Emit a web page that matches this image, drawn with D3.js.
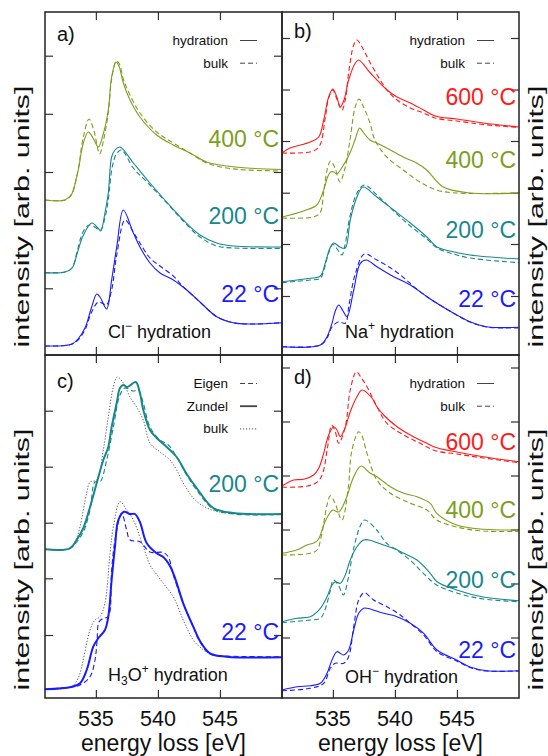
<!DOCTYPE html>
<html><head><meta charset="utf-8">
<script src="https://cdn.jsdelivr.net/npm/d3@7"></script>
<style>
body{margin:0;background:#fff}
svg{display:block}
text{font-family:"Liberation Sans",Arial,Helvetica,sans-serif}
</style>
</head><body>
<svg id="chart" width="548" height="756"></svg>
<script>
// energy axis
var energyDomain = [530.9, 550];
var xTicks = [535, 540, 545];

// panel a) Cl- hydration  [energy eV, intensity arb.]
var aCl400 = [[530.9,15.5],[532.51,15.5],[533.05,16.1],[533.18,16.5],[533.58,18.5],[533.99,21.2],[534.39,22.3],[534.77,21.7],[535.2,20.8],[535.57,22.0],[536.0,24.5],[536.27,27.8],[536.62,29.3],[536.86,28.9],[537.21,27.2],[537.75,25.5],[538.55,23.8],[539.9,22.0],[541.24,21.0],[542.58,20.2],[543.93,19.3],[545.54,18.9],[547.15,18.7],[550,18.55]];
var aCl400Bulk = [[530.9,15.5],[532.51,15.5],[533.05,16.0],[533.18,16.4],[533.58,18.6],[533.99,21.8],[534.45,23.6],[534.85,22.4],[535.3,20.1],[535.62,21.5],[536.0,24.2],[536.27,27.6],[536.65,29.4],[536.9,29.1],[537.21,27.6],[537.75,26.0],[538.55,24.2],[539.9,22.3],[541.24,21.2],[542.58,20.2],[543.93,19.2],[545.54,18.7],[547.15,18.5],[550,18.4]];
var aCl200 = [[530.9,8.23],[532.51,8.3],[533.08,8.7],[533.48,10.1],[533.96,11.9],[534.66,13.2],[535.17,12.7],[535.39,12.4],[535.73,14.2],[536.0,16.2],[536.27,19.8],[536.54,20.5],[536.94,20.8],[538.02,19.2],[539.36,17.2],[540.71,15.3],[542.04,13.5],[543.39,12.0],[544.74,11.2],[546.07,10.9],[550,10.8]];
var aCl200Bulk = [[530.9,8.23],[532.51,8.3],[533.08,8.7],[533.48,10.3],[533.96,12.3],[534.47,13.0],[535.17,12.6],[535.39,12.5],[535.73,13.7],[536.0,15.5],[536.35,19.0],[536.7,20.2],[537.07,20.5],[538.02,18.7],[539.36,17.0],[540.71,15.2],[542.04,13.4],[543.39,11.8],[544.74,10.9],[546.07,10.7],[550,10.67]];
var aCl22 = [[530.9,0.9],[532.51,0.95],[533.08,1.1],[533.56,1.6],[534.12,2.7],[534.66,4.8],[535.07,6.1],[535.33,5.8],[535.87,4.6],[536.27,7.5],[536.68,10.8],[537.21,14.5],[538.02,12.2],[538.55,10.8],[539.36,9.2],[540.17,8.2],[541.24,7.5],[542.32,6.5],[543.39,5.3],[544.74,3.83],[546.07,3.23],[547.42,3.1],[550,3.23]];
var aCl22Bulk = [[530.9,0.9],[532.51,0.95],[533.08,1.1],[533.56,1.5],[534.12,2.5],[534.66,4.3],[535.2,5.3],[535.55,5.15],[535.85,5.0],[536.27,6.5],[536.68,10.0],[537.35,13.5],[538.02,12.3],[538.55,11.2],[539.36,9.7],[540.17,8.9],[541.24,7.9],[541.9,7.0],[542.32,6.5],[543.39,5.3],[544.74,3.83],[546.07,3.23],[547.42,3.1],[550,3.23]];

// panel b) Na+ hydration
var bNa600 = [[530.9,20.2],[531.54,20.7],[532.11,20.9],[533.16,21.3],[533.86,21.8],[534.26,23.5],[534.66,25.8],[534.99,26.6],[535.29,25.9],[535.6,24.8],[535.9,25.5],[536.27,27.5],[536.81,29.2],[537.08,29.5],[538.02,28.2],[539.36,26.5],[540.17,25.8],[541.24,25.2],[542.32,24.5],[543.25,23.9],[544.98,23.6],[547.1,23.2],[550,22.8]];
var bNa600Bulk = [[530.9,20.2],[532.11,20.2],[533.43,20.4],[533.96,21.0],[534.36,23.5],[534.66,25.7],[534.99,26.5],[535.29,25.7],[535.73,24.5],[536.0,25.5],[536.3,28.5],[536.68,31.0],[536.94,31.5],[537.3,30.9],[538.02,29.2],[539.36,26.5],[540.17,25.5],[541.24,24.7],[542.32,24.2],[543.25,23.7],[544.98,23.4],[547.1,23.05],[550,22.75]];
var bNa400 = [[530.9,13.8],[532.62,14.4],[533.7,15.0],[534.2,16.3],[534.61,17.9],[534.82,18.3],[535.09,18.3],[535.31,18.1],[535.86,19.0],[536.38,20.2],[536.78,21.5],[537.15,22.7],[537.43,22.3],[537.99,21.5],[538.53,21.2],[539.34,20.7],[540.67,19.8],[541.75,19.2],[542.56,18.5],[543.9,16.8],[546.05,16.2],[550,16.2]];
var bNa400Bulk = [[530.9,13.7],[533.42,13.8],[533.96,14.2],[534.28,16.5],[534.57,18.7],[534.82,19.4],[535.17,18.7],[535.57,17.3],[535.98,18.7],[536.38,21.5],[536.78,24.7],[537.1,25.6],[537.51,24.7],[537.99,23.2],[538.39,21.5],[539.34,19.8],[540.67,18.5],[542.02,17.3],[543.36,16.5],[544.98,16.2],[550,16.2]];
var bNa200 = [[530.9,7.33],[532.11,7.5],[533.18,7.67],[533.99,7.9],[534.41,9.3],[534.77,10.7],[535.07,11.2],[535.57,10.8],[536.0,10.7],[536.4,13.5],[536.94,15.8],[537.43,16.8],[538.55,15.8],[539.9,14.5],[541.24,13.2],[542.58,11.8],[543.39,10.8],[544.44,10.4],[546.05,10.0],[550,9.6]];
var bNa200Bulk = [[530.9,7.23],[533.18,7.5],[533.99,7.67],[534.28,8.5],[534.69,10.3],[535.01,11.07],[535.4,10.5],[535.73,10.0],[535.98,11.0],[536.4,14.0],[536.94,16.2],[537.54,17.0],[538.55,16.0],[539.9,14.4],[541.24,12.9],[542.58,11.6],[543.39,10.7],[544.44,10.2],[546.05,9.7],[550,9.23]];
var bNa22 = [[530.9,0.83],[533.99,1.0],[534.53,1.83],[534.93,3.17],[535.17,4.3],[535.47,5.0],[535.82,4.4],[536.14,3.83],[536.68,6.5],[537.21,9.17],[537.69,9.5],[538.55,8.83],[539.9,7.83],[541.24,7.0],[542.58,5.83],[543.39,5.17],[544.98,4.0],[546.05,3.33],[547.39,2.83],[550,2.77]];
var bNa22Bulk = [[530.9,0.83],[533.99,1.0],[534.53,1.7],[534.93,2.8],[535.47,3.33],[536.0,3.17],[536.3,5.0],[536.78,8.0],[537.54,10.1],[538.55,9.5],[539.9,8.5],[540.93,7.5],[541.47,6.9],[542.58,5.83],[543.39,5.17],[544.98,4.0],[546.05,3.3],[547.39,2.8],[550,2.7]];

// panel c) H3O+ hydration
var cH200Zundel = [[530.9,14.87],[532.91,14.97],[533.45,15.8],[533.99,17.0],[534.53,19.1],[535.07,21.5],[535.6,23.8],[536.0,25.1],[536.27,27.1],[536.68,29.5],[536.94,31.0],[537.21,31.3],[537.53,31.1],[538.21,31.6],[538.55,30.5],[538.82,28.8],[539.36,26.8],[539.9,26.0],[540.71,25.1],[541.51,24.1],[542.32,22.4],[543.12,21.0],[544.46,19.0],[546.07,18.5],[550,18.4]];
var cH200Eigen = [[530.9,14.87],[532.91,14.97],[533.45,15.6],[533.99,16.6],[534.53,18.8],[534.93,21.6],[535.33,21.6],[535.87,23.8],[536.41,27.1],[536.94,30.3],[537.35,31.0],[538.02,30.7],[538.43,30.8],[538.82,29.5],[539.36,27.1],[540.17,25.8],[540.84,25.3],[541.51,24.1],[542.32,22.3],[543.12,20.8],[544.46,18.9],[546.07,18.4],[550,18.35]];
var cH200Bulk = [[530.9,14.87],[532.91,14.97],[533.45,16.0],[533.72,17.1],[534.26,20.5],[534.53,21.6],[535.07,21.8],[535.6,24.8],[536.0,28.1],[536.41,31.1],[536.73,32.1],[537.21,31.5],[537.75,30.1],[538.28,29.1],[538.82,27.8],[539.36,25.5],[540.17,24.6],[540.97,23.8],[541.51,22.8],[542.04,21.5],[542.85,20.0],[543.64,19.2],[544.99,18.6],[550,18.4]];
var cH22Zundel = [[530.9,0.87],[533.0,1.1],[533.72,1.47],[534.26,2.8],[534.79,5.13],[535.19,5.97],[535.73,6.8],[536.0,8.13],[536.27,11.8],[536.54,15.13],[536.81,17.8],[537.27,18.63],[537.75,18.4],[538.15,18.4],[538.55,17.6],[539.09,15.5],[539.9,14.47],[540.43,14.1],[540.97,13.2],[541.38,12.0],[542.04,9.47],[542.85,7.13],[543.39,5.7],[544.2,4.47],[545.54,4.13],[550,4.07]];
var cH22Eigen = [[530.9,0.87],[533.0,1.1],[533.72,1.3],[534.53,2.13],[534.93,3.8],[535.09,5.6],[535.25,7.6],[535.6,7.97],[536.0,8.13],[536.27,12.8],[536.54,15.8],[537.08,18.47],[537.48,16.8],[537.75,15.8],[538.55,15.63],[539.36,14.6],[540.43,14.55],[540.84,14.1],[541.24,12.3],[542.04,9.47],[542.85,7.1],[543.39,5.6],[544.2,4.4],[545.54,4.2],[550,4.13]];
var cH22Bulk = [[530.9,0.87],[533.0,1.1],[533.4,1.6],[533.72,2.47],[534.53,6.8],[534.93,7.8],[535.33,8.13],[535.73,9.47],[536.14,14.47],[536.41,17.13],[536.94,19.63],[537.48,18.8],[538.02,17.8],[538.82,15.13],[539.36,13.3],[539.63,12.8],[540.43,11.47],[541.24,10.13],[542.04,7.8],[542.85,5.8],[543.39,5.1],[544.2,4.4],[545.54,4.1],[550,4.05]];

// panel d) OH- hydration
var dOH600 = [[530.9,21.2],[531.84,21.8],[532.65,21.87],[533.45,22.3],[533.86,22.97],[534.26,24.47],[534.66,26.3],[535.07,27.13],[535.33,26.8],[535.6,26.13],[535.98,27.0],[536.4,28.63],[536.94,30.13],[537.35,30.8],[538.15,30.0],[538.55,29.13],[539.09,28.3],[540.17,27.13],[541.24,26.3],[542.58,25.47],[543.25,25.07],[544.98,24.6],[547.12,24.13],[550,23.63]];
var dOH600Bulk = [[530.9,21.07],[532.96,21.2],[533.78,21.63],[534.18,22.47],[534.58,25.13],[534.9,27.3],[535.2,26.6],[535.47,25.47],[536.0,27.13],[536.4,30.8],[536.89,32.63],[537.3,32.0],[537.75,31.13],[538.55,29.13],[539.36,27.47],[540.71,26.3],[542.04,25.47],[543.25,24.73],[544.98,24.4],[547.12,24.0],[550,23.53]];
var dOH400 = [[530.9,14.47],[532.08,14.8],[532.91,15.3],[533.45,15.5],[533.8,15.8],[534.36,17.6],[534.81,18.6],[535.01,18.8],[535.47,18.6],[536.02,19.8],[536.68,22.13],[537.27,23.2],[538.02,22.47],[538.55,22.13],[539.63,21.13],[540.71,20.47],[541.78,20.13],[542.85,19.47],[543.37,18.47],[544.98,17.3],[547.12,16.87],[550,16.8]];
var dOH400Bulk = [[530.9,14.3],[533.18,14.47],[533.72,14.8],[534.12,16.5],[534.53,19.3],[534.8,20.23],[535.17,19.5],[535.73,17.8],[536.22,20.8],[536.54,24.8],[537.08,26.63],[537.35,26.2],[537.75,24.47],[538.55,21.8],[539.63,20.47],[541.24,19.47],[542.58,18.8],[543.37,17.8],[544.98,17.1],[547.12,16.7],[550,16.67]];
var dOH200 = [[530.9,7.63],[532.11,7.97],[533.18,8.13],[533.99,8.97],[534.53,10.13],[534.93,11.3],[535.2,11.63],[535.6,11.47],[536.0,12.3],[536.4,13.8],[536.94,15.13],[537.48,15.8],[537.89,15.8],[539.09,15.3],[539.9,14.97],[540.71,14.47],[541.78,13.8],[542.85,12.47],[543.39,11.63],[544.98,10.8],[547.12,10.1],[550,9.73]];
var dOH200Bulk = [[530.9,7.53],[533.18,7.8],[533.99,7.97],[534.36,8.8],[534.77,10.63],[535.04,11.8],[535.44,11.3],[535.84,10.3],[536.24,11.97],[536.65,14.8],[537.18,17.13],[537.56,17.8],[538.53,16.8],[539.34,15.47],[540.14,14.8],[541.21,13.8],[542.29,12.47],[543.36,11.3],[544.98,10.5],[547.12,9.9],[550,9.63]];
var dOH22 = [[530.9,0.8],[532.11,1.13],[533.18,1.23],[533.99,1.47],[534.53,2.47],[534.93,3.8],[535.33,4.63],[535.87,4.3],[536.27,4.8],[536.68,6.8],[537.08,8.47],[537.48,8.97],[537.75,8.97],[539.09,8.47],[540.17,8.13],[541.24,7.47],[542.32,6.47],[543.39,4.8],[544.98,3.8],[546.05,3.1],[547.39,2.73],[550,2.73]];
var dOH22Bulk = [[530.9,0.73],[533.18,0.97],[534.26,1.47],[534.79,2.97],[535.2,3.47],[535.87,3.47],[536.27,4.13],[536.68,7.13],[537.08,9.8],[537.53,10.53],[538.28,9.8],[539.36,9.13],[540.43,8.3],[541.24,7.47],[542.32,6.3],[543.39,4.63],[544.98,3.7],[546.05,3.05],[547.39,2.7],[550,2.7]];

// y tick values (arb. units) for each panel
var yTicksA = [6.67, 12.49, 18.3, 24.12, 29.93];
var yTicksB = [5.9, 11.1, 16.23, 21.4, 26.55, 31.7];
var yTicksC = [6.3, 11.97, 17.53, 23.13, 28.73];
var yTicksD = [6.05, 11.45, 16.85, 22.25, 27.65, 33.05];

var GREEN = "#7c9e1c", TEAL = "#18878c", BLUE = "#1a1aff", RED = "#ff1a1a", GREY = "#555";

var panels = [
  {id:"a", x0:45, x1:282, y0:12, y1:355, yTicks:yTicksA, xLabels:false, letterY:41, yTitle:"left",
   legend:[["hydration","solid"],["bulk","dash"]],
   temps:[["400 °C",GREEN,147],["200 °C",TEAL,224],["22 °C",BLUE,302]],
   note:{main:"Cl", sup:"−", sub:null, tail:" hydration", x:108, y:338},
   series:[[aCl400,GREEN,"solid"],[aCl400Bulk,GREEN,"dash"],[aCl200,TEAL,"solid"],[aCl200Bulk,TEAL,"dash"],[aCl22,BLUE,"solid"],[aCl22Bulk,BLUE,"dash"]]},
  {id:"b", x0:282, x1:519, y0:12, y1:355, yTicks:yTicksB, xLabels:false, letterY:38, yTitle:"right",
   legend:[["hydration","solid"],["bulk","dash"]],
   temps:[["600 °C",RED,105],["400 °C",GREEN,168],["200 °C",TEAL,238],["22 °C",BLUE,307]],
   note:{main:"Na", sup:"+", sub:null, tail:" hydration", x:345, y:338},
   series:[[bNa600,RED,"solid"],[bNa600Bulk,RED,"dash"],[bNa400,GREEN,"solid"],[bNa400Bulk,GREEN,"dash"],[bNa200,TEAL,"solid"],[bNa200Bulk,TEAL,"dash"],[bNa22,BLUE,"solid"],[bNa22Bulk,BLUE,"dash"]]},
  {id:"c", x0:45, x1:282, y0:355, y1:698, yTicks:yTicksC, xLabels:true, letterY:388, yTitle:"left",
   legend:[["Eigen","dash"],["Zundel","thick"],["bulk","dot"]],
   temps:[["200 °C",TEAL,492],["22 °C",BLUE,640]],
   note:{main:"H", sub:"3", sup:"+", mid:"O", tail:" hydration", x:108, y:681},
   series:[[cH200Bulk,GREY,"dot"],[cH200Eigen,TEAL,"dash"],[cH200Zundel,TEAL,"thick"],[cH22Bulk,GREY,"dot"],[cH22Eigen,BLUE,"dash"],[cH22Zundel,BLUE,"thick"]]},
  {id:"d", x0:282, x1:519, y0:355, y1:698, yTicks:yTicksD, xLabels:true, letterY:384, yTitle:"right",
   legend:[["hydration","solid"],["bulk","dash"]],
   temps:[["600 °C",RED,450],["400 °C",GREEN,518],["200 °C",TEAL,588],["22 °C",BLUE,658]],
   note:{main:"OH", sup:"−", sub:null, tail:" hydration", x:345, y:683},
   series:[[dOH600,RED,"solid"],[dOH600Bulk,RED,"dash"],[dOH400,GREEN,"solid"],[dOH400Bulk,GREEN,"dash"],[dOH200,TEAL,"solid"],[dOH200Bulk,TEAL,"dash"],[dOH22,BLUE,"solid"],[dOH22Bulk,BLUE,"dash"]]}
];

var styles = {
  solid:{w:1.1, dash:null},
  dash:{w:1.1, dash:"5,3"},
  thick:{w:2.0, dash:null},
  dot:{w:1.0, dash:"1.2,1.8"}
};

var svg = d3.select("#chart");
svg.append("rect").attr("width",548).attr("height",756).attr("fill","#fff");
var defs = svg.append("defs");

panels.forEach(function(p){
  var x = d3.scaleLinear().domain(energyDomain).range([p.x0, p.x1]);
  var y = d3.scaleLinear().domain([0, 34.3]).range([p.y1, p.y0]);
  var g = svg.append("g").attr("class","panel-"+p.id);

  defs.append("clipPath").attr("id","clip-"+p.id)
    .append("rect").attr("x",p.x0).attr("y",p.y0).attr("width",p.x1-p.x0).attr("height",p.y1-p.y0);

  // ticks on all four sides, pointing inward
  var axes = [
    [d3.axisBottom(x).tickValues(xTicks), "translate(0,"+p.y1+")"],
    [d3.axisTop(x).tickValues(xTicks), "translate(0,"+p.y0+")"],
    [d3.axisLeft(y).tickValues(p.yTicks), "translate("+p.x0+",0)"],
    [d3.axisRight(y).tickValues(p.yTicks), "translate("+p.x1+",0)"]
  ];
  axes.forEach(function(a){
    var ag = g.append("g").attr("transform",a[1])
      .call(a[0].tickSize(-8).tickFormat(""));
    ag.select(".domain").remove();
    ag.selectAll("line").attr("stroke","#333").attr("stroke-width",1.2);
  });

  var line = d3.line()
    .x(function(d){return x(d[0]);})
    .y(function(d){return y(d[1]);})
    .curve(d3.curveCatmullRom.alpha(0.5));

  var cg = g.append("g").attr("clip-path","url(#clip-"+p.id+")");
  p.series.forEach(function(s){
    var st = styles[s[2]];
    cg.append("path").datum(s[0])
      .attr("d", line)
      .attr("fill","none")
      .attr("stroke", s[1])
      .attr("stroke-width", st.w)
      .attr("stroke-dasharray", st.dash)
      .attr("stroke-linejoin","round");
  });

  // frame
  g.append("rect").attr("x",p.x0).attr("y",p.y0)
    .attr("width",p.x1-p.x0).attr("height",p.y1-p.y0)
    .attr("fill","none").attr("stroke","#222").attr("stroke-width",1.5);

  // panel letter
  g.append("text").attr("x",p.x0+12).attr("y",p.letterY)
    .attr("font-size",20).attr("fill","#111").text(p.id+")");

  // legend
  p.legend.forEach(function(l, i){
    var ly = p.y0 + 33 + i*22.7;
    g.append("text").attr("x",p.x0+183).attr("y",ly)
      .attr("text-anchor","end").attr("font-size",13.5).attr("fill","#111").text(l[0]);
    var st = styles[l[1]];
    g.append("line").attr("x1",p.x0+195).attr("x2",p.x0+212)
      .attr("y1",ly-4.5).attr("y2",ly-4.5)
      .attr("stroke", l[1]==="dot" ? GREY : "#444")
      .attr("stroke-width", l[1]==="thick" ? 1.8 : 1)
      .attr("stroke-dasharray", st.dash);
  });

  // temperature labels
  p.temps.forEach(function(t){
    g.append("text").attr("x",p.x1-3).attr("y",t[2])
      .attr("text-anchor","end").attr("font-size",23).attr("fill",t[1]).text(t[0]);
  });

  // ion note
  var n = p.note;
  var nt = g.append("text").attr("x",n.x).attr("y",n.y).attr("font-size",18).attr("fill","#111");
  nt.append("tspan").text(n.main);
  if (n.sub) {
    nt.append("tspan").attr("font-size",12).attr("dy",4).text(n.sub);
    nt.append("tspan").attr("dy",-4).text(n.mid);
  }
  nt.append("tspan").attr("font-size",12).attr("dy",-8).text(n.sup);
  nt.append("tspan").attr("dy",8).text(n.tail);

  // x tick labels and title on bottom row
  if (p.xLabels) {
    g.selectAll("text.xt").data(xTicks).enter().append("text")
      .attr("class","xt")
      .attr("x", function(d){return x(d);})
      .attr("y", 725.5)
      .attr("text-anchor","middle").attr("font-size",21.5).attr("fill","#111")
      .text(function(d){return d;});
    g.append("text").attr("x",(p.x0+p.x1)/2).attr("y",751)
      .attr("text-anchor","middle").attr("font-size",23).attr("fill","#111")
      .text("energy loss [eV]");
  }

  // y title (stretched along its baseline, as in the original)
  var tx = p.yTitle==="left" ? 29 : 543;
  var ty = (p.y0+p.y1)/2 + 33;
  g.append("text")
    .attr("transform","translate("+tx+","+ty+") rotate(-90)")
    .attr("text-anchor","middle").attr("font-size",21).attr("fill","#111")
    .attr("textLength",262).attr("lengthAdjust","spacingAndGlyphs")
    .text("intensity [arb. units]");
});
</script>
</body></html>
